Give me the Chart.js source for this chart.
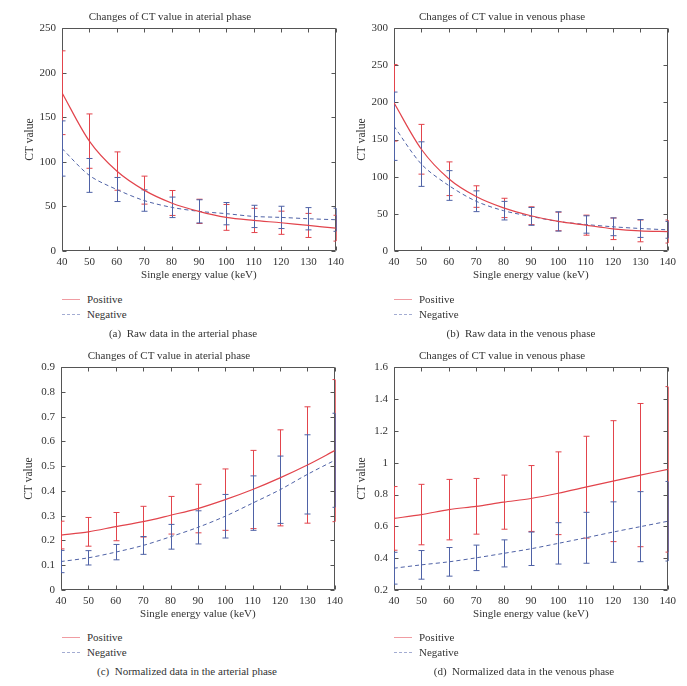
<!DOCTYPE html>
<html>
<head>
<meta charset="utf-8">
<script src="https://cdn.jsdelivr.net/npm/chart.js@4.4.1/dist/chart.umd.min.js"></script>
<style>
  body { margin: 0; background: #fff; width: 687px; height: 686px; position: relative; overflow: hidden; font-family: "Liberation Serif", serif; color: #333; }
  canvas { position: absolute; }
  .legend { position: absolute; font-size: 11px; line-height: 15px; }
  .legend div { position: relative; padding-left: 25px; height: 15px; white-space: nowrap; }
  .legend .sw { position: absolute; left: 0; top: 7px; width: 18px; height: 0; }
  .caption { position: absolute; font-size: 11px; transform: translateX(-50%); white-space: nowrap; }
</style>
</head>
<body>
<canvas id="chartA" width="349" height="290" style="left:0px; top:0px"></canvas>
<canvas id="chartB" width="349" height="290" style="left:332px; top:0px"></canvas>
<canvas id="chartC" width="349" height="290" style="left:-1px; top:339px"></canvas>
<canvas id="chartD" width="349" height="290" style="left:332px; top:339px"></canvas>

<div class="legend" style="left:62px; top:292px">
  <div><span class="sw" style="border-top:1.5px solid #f09ca2"></span>Positive</div>
  <div><span class="sw" style="border-top:1.5px dashed #a3acd2"></span>Negative</div>
</div>
<div class="legend" style="left:394px; top:292px">
  <div><span class="sw" style="border-top:1.5px solid #f09ca2"></span>Positive</div>
  <div><span class="sw" style="border-top:1.5px dashed #a3acd2"></span>Negative</div>
</div>
<div class="legend" style="left:62px; top:630px">
  <div><span class="sw" style="border-top:1.5px solid #f09ca2"></span>Positive</div>
  <div><span class="sw" style="border-top:1.5px dashed #a3acd2"></span>Negative</div>
</div>
<div class="legend" style="left:394px; top:630px">
  <div><span class="sw" style="border-top:1.5px solid #f09ca2"></span>Positive</div>
  <div><span class="sw" style="border-top:1.5px dashed #a3acd2"></span>Negative</div>
</div>

<div class="caption" style="left:183px; top:327px">(a)&nbsp; Raw data in the arterial phase</div>
<div class="caption" style="left:521px; top:327px">(b)&nbsp; Raw data in the venous phase</div>
<div class="caption" style="left:187px; top:665px">(c)&nbsp; Normalized data in the arterial phase</div>
<div class="caption" style="left:524px; top:665px">(d)&nbsp; Normalized data in the venous phase</div>

<script>
// Energies (keV)
const energies = [40, 50, 60, 70, 80, 90, 100, 110, 120, 130, 140];

// (a) raw, arterial phase
const aPosMean = [177.6, 123.3, 89.7, 68.3, 53.9, 44.5, 37.7, 34.3, 31.7, 28.7, 25.6];
const aPosSd   = [47, 30.5, 21.5, 15.7, 14, 13.6, 14.5, 13.6, 13, 13.5, 14.5];
const aNegMean = [115, 84.8, 69, 56.6, 49, 44.5, 41.9, 38.8, 37.7, 36.2, 35.1];
const aNegSd   = [31, 19, 13.5, 12, 11.5, 13, 12.5, 12.5, 12.5, 12.5, 13];

// (b) raw, venous phase
const bPosMean = [199.5, 137, 97.3, 73.3, 58, 47.5, 39.8, 34.8, 29.9, 27.1, 26.2];
const bPosSd   = [51.5, 33.5, 22.7, 14.5, 13, 12, 12.5, 13.5, 14.5, 14.7, 15.5];
const bNegMean = [168, 117, 88.2, 67, 54.3, 46.6, 39.8, 35.7, 32.6, 30.3, 28.5];
const bNegSd   = [46, 30, 20, 14, 12.5, 12, 13, 11.7, 12, 12, 11.3];

// (c) normalized, arterial phase
const cPosMean = [0.222, 0.235, 0.256, 0.276, 0.302, 0.329, 0.365, 0.406, 0.453, 0.505, 0.563];
const cPosSd   = [0.056, 0.058, 0.057, 0.062, 0.076, 0.098, 0.124, 0.158, 0.194, 0.235, 0.287];
const cNegMean = [0.115, 0.13, 0.153, 0.18, 0.215, 0.253, 0.298, 0.351, 0.405, 0.467, 0.524];
const cNegSd   = [0.045, 0.029, 0.031, 0.036, 0.05, 0.067, 0.088, 0.11, 0.136, 0.16, 0.19];

// (d) normalized, venous phase
const dPosMean = [0.65, 0.674, 0.705, 0.726, 0.752, 0.775, 0.808, 0.846, 0.884, 0.922, 0.958];
const dPosSd   = [0.2, 0.19, 0.19, 0.175, 0.17, 0.207, 0.26, 0.32, 0.38, 0.45, 0.52];
const dNegMean = [0.337, 0.358, 0.377, 0.402, 0.43, 0.459, 0.493, 0.528, 0.564, 0.598, 0.632];
const dNegSd   = [0.1, 0.09, 0.09, 0.08, 0.085, 0.105, 0.13, 0.16, 0.19, 0.22, 0.25];

const RED = '#e2444c';
const BLUE = '#4f62a6';
const AXIS = '#555';
const FONT = 'Liberation Serif';

// frame with inward ticks, then error bars on top of it, then the lines (datasets) last
const frameAndErrorBars = {
    id: 'frameAndErrorBars',
    beforeDatasetsDraw(chart) {
        const { ctx, chartArea: a, scales: { x, y } } = chart;
        const L = Math.round(a.left) + 0.5, R = Math.round(a.right) - 0.5;
        const T = Math.round(a.top) + 0.5, B = Math.round(a.bottom) - 0.5;
        ctx.save();
        ctx.strokeStyle = AXIS;
        ctx.lineWidth = 1;
        ctx.beginPath();
        ctx.rect(L, T, R - L, B - T);
        x.ticks.forEach(t => {
            const px = Math.round(x.getPixelForValue(t.value)) + 0.5;
            ctx.moveTo(px, B); ctx.lineTo(px, B - 4);
            ctx.moveTo(px, T); ctx.lineTo(px, T + 4);
        });
        y.ticks.forEach(t => {
            const py = Math.round(y.getPixelForValue(t.value)) + 0.5;
            ctx.moveTo(L, py); ctx.lineTo(L + 4, py);
            ctx.moveTo(R, py); ctx.lineTo(R - 4, py);
        });
        ctx.stroke();

        ctx.beginPath();
        ctx.rect(a.left - 1, a.top, a.width + 2, a.height);
        ctx.clip();
        chart.data.datasets.forEach(ds => {
            ctx.strokeStyle = ds.borderColor;
            ctx.lineWidth = 1;
            ctx.setLineDash([]);
            ds.data.forEach((pt, i) => {
                const px = Math.round(x.getPixelForValue(pt.x)) + 0.5;
                const hi = y.getPixelForValue(pt.y + ds.sd[i]);
                const lo = y.getPixelForValue(pt.y - ds.sd[i]);
                ctx.beginPath();
                ctx.moveTo(px, hi); ctx.lineTo(px, lo);
                ctx.moveTo(Math.max(px - 3, a.left), hi); ctx.lineTo(Math.min(px + 3, a.right), hi);
                ctx.moveTo(Math.max(px - 3, a.left), lo); ctx.lineTo(Math.min(px + 3, a.right), lo);
                ctx.stroke();
            });
        });
        ctx.restore();
    }
};

function toPoints(vals) {
    return energies.map((e, i) => ({ x: e, y: vals[i] }));
}

function makeChart(id, title, yMin, yMax, yStep, posMean, posSd, negMean, negSd) {
    new Chart(document.getElementById(id), {
        type: 'line',
        data: {
            datasets: [
                { label: 'Positive', data: toPoints(posMean), sd: posSd, borderColor: RED, borderWidth: 1.2,
                  pointRadius: 0, tension: 0.3, fill: false },
                { label: 'Negative', data: toPoints(negMean), sd: negSd, borderColor: BLUE, borderWidth: 1,
                  borderDash: [4, 3], pointRadius: 0, tension: 0.3, fill: false }
            ]
        },
        options: {
            responsive: false,
            animation: false,
            layout: { padding: { left: 0, right: 9, top: 0, bottom: 0 } },
            plugins: {
                legend: { display: false },
                tooltip: { enabled: false },
                title: { display: true, text: title, color: '#333', font: { family: FONT, size: 11, weight: 'normal' },
                         padding: { top: 11, bottom: 4 } }
            },
            scales: {
                x: {
                    type: 'linear', min: 40, max: 140,
                    grid: { display: false, drawTicks: false }, border: { display: false },
                    ticks: { stepSize: 10, color: '#333', padding: 5, font: { family: FONT, size: 11 }, maxRotation: 0 },
                    title: { display: true, text: 'Single energy value (keV)', color: '#333',
                             font: { family: FONT, size: 11 }, padding: { top: 0, bottom: 8 } },
                    afterFit: s => { s.height = 39; }
                },
                y: {
                    min: yMin, max: yMax,
                    grid: { display: false, drawTicks: false }, border: { display: false },
                    ticks: { stepSize: yStep, color: '#333', padding: 6, font: { family: FONT, size: 11 },
                             callback: v => String(+v.toFixed(2)) },
                    title: { display: true, text: 'CT value', color: '#333',
                             font: { family: FONT, size: 11.5 }, padding: { top: 23, bottom: 0 } },
                    afterFit: s => { s.width = 62; }
                }
            }
        },
        plugins: [frameAndErrorBars]
    });
}

makeChart('chartA', 'Changes of CT value in aterial phase', 0, 250, 50, aPosMean, aPosSd, aNegMean, aNegSd);
makeChart('chartB', 'Changes of CT value in venous phase', 0, 300, 50, bPosMean, bPosSd, bNegMean, bNegSd);
makeChart('chartC', 'Changes of CT value in aterial phase', 0, 0.9, 0.1, cPosMean, cPosSd, cNegMean, cNegSd);
makeChart('chartD', 'Changes of CT value in venous phase', 0.2, 1.6, 0.2, dPosMean, dPosSd, dNegMean, dNegSd);
</script>
</body>
</html>
